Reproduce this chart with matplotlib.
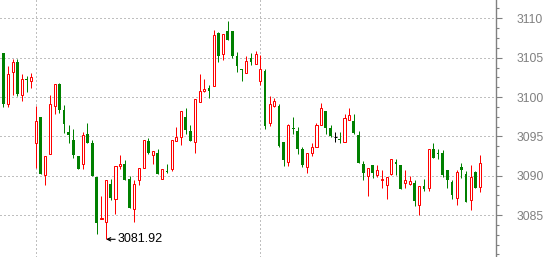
import matplotlib
matplotlib.use("Agg")
import matplotlib.pyplot as plt
from matplotlib.patches import Rectangle

opens = [3105.6, 3099.15, 3103.2, 3104.5, 3100.3, 3102.3, 3102.0, 3094.2, 3097.4, 3090.1,
         3092.7, 3098.9, 3101.65, 3098.3, 3095.5, 3094.5, 3092.5, 3091.5, 3095.3, 3094.2,
         3089.8, 3084.45, 3084.1, 3088.95, 3087.0, 3091.2, 3091.5, 3089.6, 3085.8, 3089.4,
         3091.0, 3094.4, 3092.6, 3092.85, 3089.6, 3090.6, 3090.9, 3094.45, 3094.95, 3097.4,
         3095.7, 3094.25, 3099.4, 3100.75, 3101.1, 3101.4, 3108.15, 3105.45, 3108.4, 3108.4,
         3105.2, 3103.6, 3103.05, 3105.0, 3104.2, 3102.0, 3103.35, 3096.75, 3098.9, 3098.9,
         3094.3, 3091.7, 3096.0, 3095.7, 3093.35, 3091.1, 3092.9, 3093.6, 3096.4, 3098.2,
         3096.05, 3094.9, 3094.7, 3094.3, 3097.1, 3096.95, 3095.2, 3091.5, 3090.0, 3091.3,
         3090.1, 3089.5, 3088.8, 3090.2, 3091.8, 3091.35, 3089.1, 3089.0, 3089.1, 3086.3,
         3088.7, 3088.4, 3093.4, 3092.85, 3092.9, 3090.75, 3089.2, 3087.2, 3091.1, 3090.25,
         3086.9, 3090.5, 3088.6]
highs = [3105.6, 3104.0, 3104.8, 3104.8, 3102.9, 3102.7, 3103.05, 3098.9, 3097.4, 3092.5,
         3100.3, 3101.6, 3101.8, 3099.0, 3096.5, 3096.0, 3092.5, 3095.6, 3096.7, 3094.5,
         3089.8, 3087.4, 3089.4, 3089.6, 3091.2, 3092.6, 3092.0, 3090.0, 3089.5, 3091.0,
         3094.5, 3094.75, 3093.1, 3093.4, 3090.85, 3091.5, 3094.6, 3096.2, 3098.2, 3098.6,
         3096.4, 3099.8, 3102.9, 3102.3, 3101.5, 3108.5, 3108.2, 3108.0, 3109.65, 3108.4,
         3105.75, 3103.6, 3105.2, 3105.55, 3105.8, 3105.4, 3103.55, 3100.1, 3099.9, 3099.1,
         3094.3, 3096.6, 3097.5, 3096.2, 3093.7, 3092.9, 3094.15, 3096.7, 3099.2, 3098.2,
         3096.4, 3095.55, 3095.6, 3097.9, 3098.6, 3097.9, 3095.7, 3091.9, 3091.0, 3091.3,
         3091.4, 3090.7, 3089.9, 3092.1, 3092.1, 3091.35, 3090.7, 3090.0, 3089.4, 3088.7,
         3089.6, 3093.4, 3094.2, 3093.4, 3093.3, 3090.75, 3089.5, 3090.7, 3091.6, 3090.6,
         3091.3, 3090.6, 3092.6]
lows = [3098.7, 3098.7, 3100.3, 3100.1, 3099.5, 3100.6, 3101.2, 3091.0, 3090.2, 3088.8,
        3092.7, 3097.8, 3098.0, 3095.4, 3094.1, 3092.3, 3090.8, 3090.9, 3094.1, 3090.0,
        3082.6, 3084.45, 3081.92, 3086.9, 3085.1, 3090.8, 3089.4, 3085.9, 3084.15, 3088.8,
        3091.0, 3092.7, 3091.55, 3090.2, 3089.6, 3090.4, 3090.6, 3094.45, 3093.9, 3095.25,
        3094.45, 3092.9, 3099.4, 3100.6, 3099.9, 3101.4, 3104.5, 3104.7, 3107.3, 3105.0,
        3103.15, 3102.0, 3103.05, 3104.1, 3104.2, 3101.5, 3096.0, 3096.3, 3098.7, 3093.65,
        3091.2, 3091.2, 3095.3, 3092.8, 3091.05, 3090.3, 3092.55, 3093.6, 3096.4, 3095.25,
        3094.9, 3094.25, 3094.15, 3094.3, 3097.1, 3095.25, 3091.6, 3089.5, 3087.4, 3089.7,
        3089.8, 3088.5, 3087.1, 3090.1, 3090.1, 3088.3, 3088.5, 3088.8, 3086.2, 3085.0,
        3088.0, 3088.1, 3092.2, 3092.1, 3089.9, 3088.5, 3087.0, 3086.3, 3089.7, 3086.6,
        3085.7, 3088.4, 3087.9]
closes = [3099.15, 3102.9, 3104.4, 3100.4, 3102.3, 3102.2, 3102.6, 3096.9, 3090.2, 3092.5,
          3099.1, 3101.6, 3098.3, 3096.6, 3095.2, 3092.6, 3090.9, 3095.2, 3094.1, 3090.0,
          3084.0, 3084.6, 3089.4, 3087.2, 3091.2, 3091.5, 3089.5, 3085.9, 3089.0, 3091.0,
          3094.5, 3092.9, 3093.1, 3090.2, 3090.85, 3090.5, 3094.6, 3094.9, 3098.2, 3095.8,
          3094.45, 3099.8, 3100.8, 3101.0, 3100.75, 3107.9, 3105.2, 3108.0, 3107.3, 3105.2,
          3103.9, 3103.45, 3104.6, 3104.4, 3105.5, 3103.55, 3096.3, 3099.15, 3099.45, 3093.8,
          3092.0, 3096.5, 3095.9, 3093.4, 3091.4, 3092.9, 3093.6, 3096.4, 3098.6, 3096.05,
          3095.0, 3094.9, 3094.6, 3097.3, 3097.7, 3095.4, 3091.6, 3090.3, 3091.0, 3090.3,
          3090.75, 3089.6, 3089.9, 3092.1, 3091.5, 3088.3, 3089.5, 3089.3, 3086.8, 3088.7,
          3088.3, 3093.4, 3092.2, 3092.75, 3090.1, 3089.4, 3087.5, 3090.5, 3090.7, 3086.6,
          3089.8, 3088.5, 3091.6]

separator_idx = [7, 55]
y_major = [3085, 3090, 3095, 3100, 3105, 3110]
low_label_idx = 22
low_label_text = "3081.92"

W, H = 547, 257
fig = plt.figure(figsize=(W / 100, H / 100), dpi=100)
ax = fig.add_axes([0, 0, 495.5 / W, 1])

px = 0.72  # 1 pixel in points
UP, DOWN, FLAT = "#ff0000", "#008000", "#000000"

n = len(opens)
for i in range(n):
    o, h, l, c = opens[i], highs[i], lows[i], closes[i]
    if c > o:
        col = UP
    elif c < o:
        col = DOWN
    else:
        col = FLAT
    ax.vlines(i, l, h, color=col, lw=px, zorder=2)
    lo, hi = min(o, c), max(o, c)
    if col == UP:
        ax.add_patch(Rectangle((i - 0.22, lo), 0.44, max(hi - lo, 0.05),
                               facecolor="white", edgecolor=col, lw=px, zorder=3))
    elif col == DOWN:
        ax.add_patch(Rectangle((i - 0.3, lo), 0.6, max(hi - lo, 0.12),
                               facecolor=col, edgecolor="none", lw=0, zorder=3))
    else:
        ax.hlines(o, i - 0.3, i + 0.3, color=col, lw=px, zorder=3)

ax.set_xlim(-0.71, 105.3)
ax.set_ylim(3079.67, 3112.33)

grid_kw = dict(color="#808080", lw=px, ls=(0, (1, 3)), zorder=1)
for y in y_major:
    ax.axhline(y, **grid_kw)
for xi in separator_idx:
    ax.axvline(xi, **grid_kw)

for s in ["left", "top", "bottom"]:
    ax.spines[s].set_visible(False)
ax.spines["right"].set_color("#808080")
ax.spines["right"].set_linewidth(1.0)

ax.set_xticks([])
ax.yaxis.tick_right()
ax.set_yticks(y_major)
ax.set_yticklabels([str(v) for v in y_major])
ax.set_yticks([3111.25, 3108.75, 3107.5, 3106.25, 3103.75, 3102.5, 3101.25,
               3098.75, 3097.5, 3096.25, 3093.75, 3092.5, 3091.25,
               3088.75, 3087.5, 3086.25, 3083.75, 3082.5, 3081.25, 3080.0], minor=True)
ax.tick_params(axis="y", which="major", direction="out", length=4.5, width=0.8,
               color="#808080", labelcolor="#808080", pad=11, labelsize=8.7)
ax.tick_params(axis="y", which="minor", direction="out", length=2.5, width=0.8,
               color="#808080")
for t in ax.get_yticklabels():
    t.set_fontfamily("Liberation Sans")

ax.annotate(low_label_text, xy=(low_label_idx, lows[low_label_idx]),
            xytext=(8.5, 0), textcoords="offset points", ha="left", va="center",
            fontsize=9, family="Liberation Sans", color="black",
            arrowprops=dict(arrowstyle="->", color="black", lw=0.8,
                            shrinkA=0, shrinkB=0, mutation_scale=6), zorder=5)

fig.savefig("out.png", dpi=100)
